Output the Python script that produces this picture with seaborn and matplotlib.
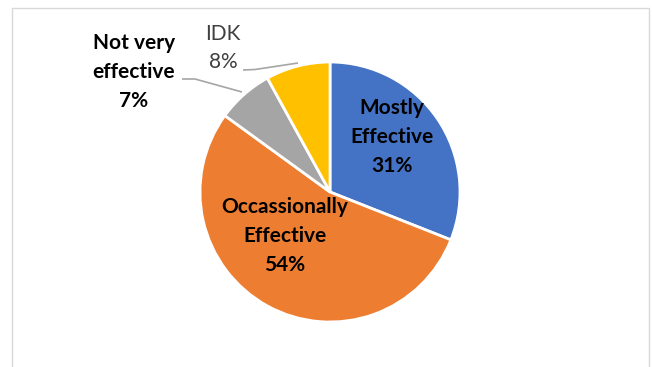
import matplotlib
matplotlib.use("Agg")
import matplotlib.pyplot as plt
import seaborn as sns
from matplotlib.patches import Rectangle

# ---- data ----
categories = ["Mostly Effective", "Occassionally Effective", "Not very effective", "IDK"]
values = [31, 54, 7, 8]
label_texts = ["Mostly\nEffective\n31%", "Occassionally\nEffective\n54%",
               "Not very\neffective\n7%", "IDK\n8%"]
colors = ["#4472C4", "#ED7D31", "#A5A5A5", "#FFC000"]

sns.set_style("white")
plt.rcParams["font.family"] = ["Lato", "DejaVu Sans"]

W, H = 653, 367
fig = plt.figure(figsize=(W / 100, H / 100), dpi=100)
fig.patch.set_facecolor("white")

cx, cy, r = 330, 192, 130
ax = fig.add_axes([(cx - r) / W, (H - cy - r) / H, 2 * r / W, 2 * r / H])
ax.pie(values, colors=colors, startangle=90, counterclock=False,
       wedgeprops=dict(edgecolor="white", linewidth=2))
ax.set_xlim(-1, 1)
ax.set_ylim(-1, 1)
ax.set_aspect("equal")
ax.axis("off")


def px(x, y):
    return ((x - cx) / r, (cy - y) / r)


label_pos = [(392, 137), (285, 236), (134, 72), (223, 48)]
label_weight = ["bold", "bold", "bold", "normal"]
label_color = ["black", "black", "black", "#404040"]
for txt, pos, w, c in zip(label_texts, label_pos, label_weight, label_color):
    x, y = px(*pos)
    ax.text(x, y, txt, ha="center", va="center", multialignment="center",
            fontsize=15, fontweight=w, color=c, linespacing=1.55, clip_on=False)

# leader lines
leaders = [
    [(182, 79), (195, 79), (242, 92)],
    [(243, 70), (255, 69.5), (298, 63)],
]
for pts in leaders:
    xs, ys = zip(*[px(*p) for p in pts])
    ax.plot(xs, ys, color="#A6A6A6", lw=1.2, clip_on=False, solid_capstyle="butt")

# chart border
fig.add_artist(Rectangle((12 / W, -0.05), (649 - 12) / W, (H - 8) / H + 0.05,
                         transform=fig.transFigure, fill=False,
                         edgecolor="#D9D9D9", lw=1))

fig.savefig("out.png", dpi=100)
